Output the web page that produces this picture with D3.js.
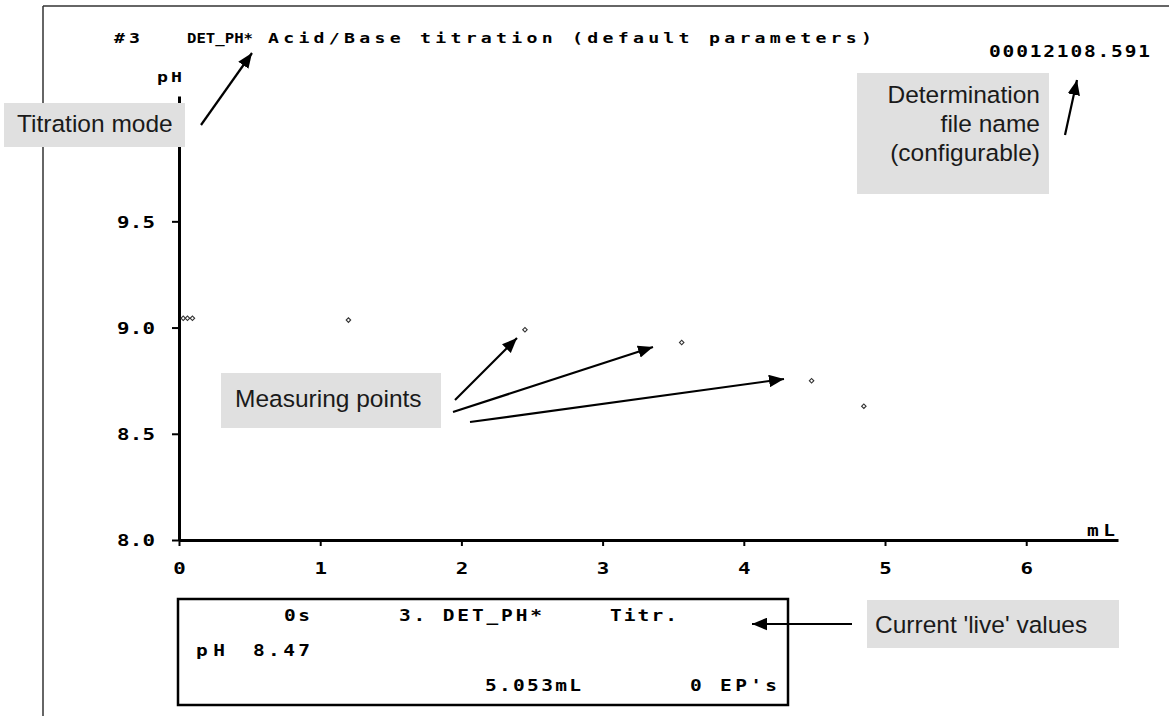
<!DOCTYPE html>
<html><head><meta charset="utf-8">
<script src="https://cdn.jsdelivr.net/npm/d3@7"></script>
<style>
body{margin:0;background:#fff}
svg{display:block}
.bm{font-family:"DejaVu Sans Mono","Liberation Mono",monospace;font-weight:bold;fill:#000}
.ann{font-family:"Liberation Sans",Arial,sans-serif;fill:#1a1a1a;font-size:24.5px}
</style></head><body>
<svg id="c" width="1169" height="716"></svg>
<script>
// ---- data ----
const volumes_mL = [0.03, 0.06, 0.095, 1.20, 2.45, 3.56, 4.48, 4.85];
const pHValues   = [9.044, 9.044, 9.044, 9.035, 8.99, 8.93, 8.75, 8.63];
const xTicks = [0, 1, 2, 3, 4, 5, 6];
const yTicks = [8.0, 8.5, 9.0, 9.5];
const xLabel = "mL";
const yLabel = "pH";
const titleParts = ["#3", "DET_PH*", "Acid/Base titration (default parameters)"];
const fileName = "00012108.591";
const liveRow1 = ["0s", "3. DET_PH*", "Titr."];
const liveRow2 = ["pH", "8.47"];
const liveRow3 = ["5.053mL", "0 EP's"];
const notes = ["Titration mode", "Determination", "file name", "(configurable)", "Measuring points", "Current 'live' values"];

// ---- drawing ----
const svg = d3.select("#c");
const x = d3.scaleLinear().domain([0, 6.65]).range([179, 1118]);
const y = d3.scaleLinear().domain([8.0, 10.09]).range([540, 96]);

const defs = svg.append("defs");
defs.append("marker").attr("id","ah").attr("viewBox","0 0 12 10")
  .attr("refX",12).attr("refY",5).attr("markerWidth",15).attr("markerHeight",13)
  .attr("markerUnits","userSpaceOnUse").attr("orient","auto")
  .append("path").attr("d","M0,0 L12,5 L0,10 Z").attr("fill","#000");

// bitmap-like text helper: widened bold mono glyphs stretched to a measured width
function bm(str, x0, y0, size, width, anchor){
  const adv = 0.602*size*str.length;
  let sx = 1.3;
  if (width && adv*sx > width) sx = width/adv;
  const t = svg.append("text").attr("class","bm")
    .attr("transform",`translate(${x0},${y0}) scale(${sx},1)`)
    .attr("font-size",size).attr("text-anchor",anchor||"start").text(str);
  if (width) t.attr("textLength",width/sx).attr("lengthAdjust","spacing");
  return t;
}

// screen frame
svg.append("line").attr("x1",43).attr("y1",6).attr("x2",1169).attr("y2",6).attr("stroke","#333").attr("stroke-width",1.5);
svg.append("line").attr("x1",43).attr("y1",6).attr("x2",43).attr("y2",716).attr("stroke","#333").attr("stroke-width",1.5);

// title
bm(titleParts[0],114,43,14,26);
bm(titleParts[1],187,43,14,66);
bm(titleParts[2],268,43,14,604);
bm(fileName,989,57,15,161);

// axes
const gy = svg.append("g").attr("transform","translate(179,0)")
  .call(d3.axisLeft(y).tickValues(yTicks).tickFormat(d3.format(".1f")).tickSize(7).tickSizeOuter(0).tickPadding(17));
const gx = svg.append("g").attr("transform","translate(0,540)")
  .call(d3.axisBottom(x).tickValues(xTicks).tickFormat(d3.format("d")).tickSize(6).tickSizeOuter(0));
[gx,gy].forEach(g=>{
  g.select(".domain").attr("stroke","#000").attr("stroke-width",3);
  g.selectAll(".tick line").attr("stroke","#000").attr("stroke-width",2);
  g.selectAll("text").attr("class","bm").attr("font-size",16).attr("fill","#000");
});
const ySx = 1.3;
gy.selectAll(".tick text").attr("x",-24/ySx).attr("transform",`scale(${ySx},1)`)
  .attr("textLength",38/ySx).attr("lengthAdjust","spacing").attr("dy","0.36em");
gx.selectAll(".tick text").attr("y",34).attr("dy",null).attr("transform","scale(1.3,1)");
bm(yLabel,157,82,14,25);
bm(xLabel,1087,536,15,28);

// measuring points
svg.append("g").selectAll("path").data(volumes_mL).join("path")
  .attr("d", d3.symbol(d3.symbolSquare).size(10))
  .attr("transform",(d,i)=>`translate(${x(d)},${y(pHValues[i])}) rotate(45)`)
  .attr("fill","#fff").attr("stroke","#333").attr("stroke-width",1.1);

// live values box
svg.append("rect").attr("x",178).attr("y",599).attr("width",610).attr("height",106)
  .attr("fill","none").attr("stroke","#000").attr("stroke-width",2.5);
bm(liveRow1[0],284,621,15,26);
bm(liveRow1[1],399,621,15,143);
bm(liveRow1[2],610,621,15,67);
bm(liveRow2[0],196,656,15,29);
bm(liveRow2[1],253,656,15,57);
bm(liveRow3[0],485,691,15,96);
bm(liveRow3[1],690,691,15,87);

// annotation boxes
function box(x0,y0,w,h){ svg.append("rect").attr("x",x0).attr("y",y0).attr("width",w).attr("height",h).attr("fill","#e0e0e0"); }
box(4,103,181,44);
svg.append("text").attr("class","ann").attr("x",17).attr("y",132).text(notes[0]);
box(857,73,192,121);
[[notes[1],103],[notes[2],132],[notes[3],161]].forEach(([t,yy])=>
  svg.append("text").attr("class","ann").attr("x",1040).attr("y",yy).attr("text-anchor","end").text(t));
box(221,373,220,55);
svg.append("text").attr("class","ann").attr("x",235).attr("y",407).text(notes[4]);
box(867,600,252,48);
svg.append("text").attr("class","ann").attr("x",875).attr("y",633).text(notes[5]);

// arrows
const arrows = [[201,125,252,53],[1065,135,1077,80],[455,400,517,338],[453,412,653,347],[470,422,784,379],[852,624,752,624]];
arrows.forEach(([a,b,c,d])=>{
  svg.append("line").attr("x1",a).attr("y1",b).attr("x2",c).attr("y2",d)
    .attr("stroke","#000").attr("stroke-width",2.2).attr("marker-end","url(#ah)");
});
</script></body></html>
